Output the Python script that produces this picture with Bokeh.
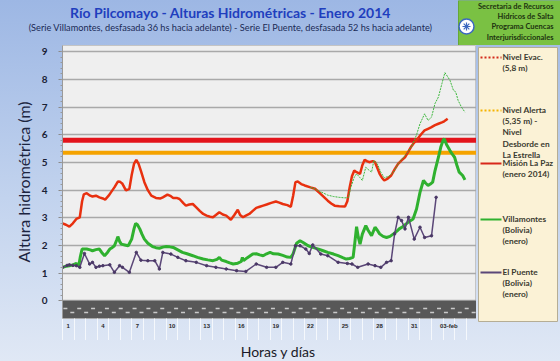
from bokeh.plotting import figure
from bokeh.layouts import column, row
from bokeh.models import Range1d, FixedTicker, Span, BoxAnnotation
from bokeh.core.properties import value
from bokeh.embed import file_html
from bokeh.resources import INLINE
import numpy as np

# ---------------- data ----------------
tick_days = [1, 4, 7, 10, 13, 16, 19, 22, 25, 28, 31, 34]
tick_labels = ["1", "4", "7", "10", "13", "16", "19", "22", "25", "28", "31", "03-feb"]

nivel_evac = 5.8
nivel_alerta = 5.35

lapaz_x = [0.5, 0.8, 1.1, 1.4, 1.7, 2.0, 2.2, 2.35, 2.6, 2.9, 3.1, 3.4, 3.7, 4.0, 4.2, 4.5, 4.7, 5.0,
           5.3, 5.5, 5.7, 6.0, 6.3, 6.5, 6.7, 6.9, 7.1, 7.3, 7.6, 7.9, 8.2, 8.6, 9.0, 9.2, 9.6, 9.9,
           10.1, 10.4, 10.65, 11.0, 11.2, 11.5, 11.8, 12.1, 12.4, 12.7, 13.0, 13.3, 13.55, 13.8,
           14.1, 14.4, 14.7, 15.1, 15.4, 15.7, 15.9, 16.15, 16.4, 16.7, 17.0, 17.3, 17.6, 17.9,
           18.2, 18.6, 19.0, 19.3, 19.6, 20.0, 20.3, 20.5, 20.7, 20.9, 21.2, 21.5, 22.0, 22.4,
           22.9, 23.2, 23.5, 23.8, 24.1, 24.5, 25.0, 25.2, 25.4, 25.6, 25.8, 26.0, 26.3, 26.5,
           26.7, 26.9, 27.1, 27.4, 27.6, 27.8, 28.0, 28.2, 28.4, 28.7, 29.0, 29.3, 29.6, 29.9,
           30.2, 30.5, 30.7, 31.0, 31.3, 31.6, 31.9, 32.2, 32.5, 32.8, 33.1, 33.4, 33.6, 33.9]
lapaz_y = [2.80, 2.75, 2.68, 2.80, 2.96, 3.02, 3.60, 3.85, 3.89, 3.80, 3.77, 3.80, 3.74, 3.70, 3.66,
           3.80, 3.92, 4.10, 4.31, 4.30, 4.23, 3.99, 4.05, 4.55, 4.95, 5.10, 4.95, 4.70, 4.29, 4.00,
           3.80, 3.72, 3.70, 3.74, 3.84, 3.78, 3.72, 3.72, 3.68, 3.52, 3.44, 3.48, 3.50, 3.38, 3.25,
           3.14, 3.08, 3.04, 3.02, 3.10, 3.20, 3.12, 3.08, 2.93, 3.10, 3.29, 3.10, 3.02, 3.08, 3.14,
           3.25, 3.36, 3.40, 3.44, 3.48, 3.54, 3.59, 3.55, 3.50, 3.46, 3.40, 3.80, 4.29, 4.31, 4.22,
           4.17, 4.10, 4.05, 3.86, 3.74, 3.62, 3.52, 3.44, 3.42, 3.41, 3.60, 4.10, 4.50, 4.71, 4.65,
           4.59, 4.90, 5.10, 5.05, 5.01, 5.05, 5.01, 4.80, 4.59, 4.45, 4.35, 4.42, 4.53, 4.75, 4.95,
           5.08, 5.19, 5.40, 5.55, 5.72, 5.86, 6.02, 6.16, 6.22, 6.28, 6.35, 6.40, 6.45, 6.49, 6.58]

thin_x = [22.0, 22.4, 22.6, 23.0, 23.5, 24.0, 24.5, 25.0, 25.3, 25.5, 25.8, 26.0, 26.3, 26.5,
          26.8, 27.0, 27.3, 27.5, 27.8, 28.1, 28.4, 28.8, 29.2, 29.6, 30.0, 30.4, 30.8, 31.2, 31.5,
          31.9, 32.2, 32.5, 32.8, 33.1, 33.4, 33.66, 33.9, 34.1, 34.4, 34.6, 34.8, 35.1, 35.4]
thin_y = [4.10, 4.05, 3.99, 3.92, 3.82, 3.77, 3.74, 3.72, 3.74, 4.10, 4.47, 4.59, 4.45, 4.35,
          4.83, 4.75, 4.65, 5.07, 4.95, 4.65, 4.45, 4.50, 4.65, 4.95, 5.15, 5.35, 5.60, 6.00, 6.40,
          6.76, 6.52, 6.64, 7.13, 7.37, 7.85, 8.25, 8.10, 7.97, 7.61, 7.55, 7.25, 7.00, 6.82]

villa_x = [0.5, 0.8, 1.1, 1.4, 1.7, 1.9, 2.05, 2.2, 2.6, 2.9, 3.1, 3.4, 3.7, 3.9, 4.15, 4.4, 4.6,
           4.8, 5.0, 5.2, 5.3, 5.45, 5.6, 5.9, 6.2, 6.5, 6.7, 6.84, 7.0, 7.2, 7.4, 7.6, 7.9, 8.3,
           8.6, 8.9, 9.2, 9.5, 9.8, 10.1, 10.5, 10.9, 11.3, 11.8, 12.2, 12.7, 13.1, 13.55, 13.9,
           14.1, 14.3, 14.7, 15.0, 15.3, 15.7, 16.0, 16.1, 16.2, 16.5, 17.0, 17.3, 17.6, 17.9,
           18.2, 18.5, 18.8, 19.2, 19.6, 20.0, 20.3, 20.5, 20.8, 21.1, 21.4, 21.8, 22.2, 22.7,
           23.1, 23.5, 24.0, 24.4, 24.8, 25.1, 25.4, 25.7, 25.85, 26.0, 26.15, 26.3, 26.5, 26.8,
           27.0, 27.3, 27.6, 27.8, 28.0, 28.3, 28.6, 28.9, 29.2, 29.5, 29.7, 30.0, 30.3, 30.6,
           30.9, 31.2, 31.5, 31.8, 32.0, 32.2, 32.4, 32.6, 32.8, 33.1, 33.3, 33.5, 33.6, 33.8,
           34.1, 34.3, 34.5, 34.7, 34.9, 35.2, 35.4]
villa_y = [1.21, 1.25, 1.27, 1.30, 1.35, 1.25, 1.60, 1.87, 1.87, 1.84, 1.81, 1.85, 1.87, 1.75, 1.63,
           1.75, 1.87, 1.92, 1.99, 2.20, 2.32, 2.15, 2.05, 2.02, 1.99, 2.23, 2.60, 2.80, 2.75, 2.60,
           2.40, 2.23, 2.08, 1.96, 1.92, 1.90, 1.94, 1.96, 1.95, 1.93, 1.84, 1.75, 1.70, 1.63, 1.57,
           1.51, 1.48, 1.45, 1.50, 1.57, 1.47, 1.42, 1.37, 1.33, 1.36, 1.42, 1.57, 1.45, 1.55, 1.69,
           1.70, 1.66, 1.63, 1.70, 1.75, 1.70, 1.69, 1.64, 1.58, 1.57, 1.70, 2.08, 2.17, 2.10, 1.99,
           1.93, 1.87, 1.81, 1.75, 1.69, 1.63, 1.56, 1.51, 1.53, 1.57, 2.10, 2.68, 2.30, 2.05, 2.41,
           2.72, 2.55, 2.35, 2.66, 2.55, 2.42, 2.33, 2.29, 2.33, 2.42, 2.52, 2.60, 2.68, 2.78, 2.88,
           2.96, 3.32, 3.92, 4.35, 4.25, 4.17, 4.22, 4.29, 4.70, 5.19, 5.55, 5.80, 5.86, 5.65, 5.43,
           5.30, 5.19, 4.90, 4.65, 4.53, 4.37]

puente_x = [0.5, 0.9, 1.1, 1.4, 1.7, 2.0, 2.4, 2.85, 3.1, 3.4, 3.7, 4.0, 4.6, 5.0, 5.45, 5.7, 6.3,
            6.9, 7.3, 7.9, 8.5, 8.9, 9.2, 9.9, 10.5, 11.2, 12.1, 13.0, 13.8, 14.7, 15.6, 16.4, 17.3,
            18.2, 19.0, 19.6, 20.3, 20.7, 21.1, 21.6, 21.9, 22.2, 22.9, 23.5, 24.4, 25.2, 25.6,
            26.1, 27.0, 27.6, 28.1, 28.6, 29.0, 29.3, 29.6, 29.9, 30.2, 30.5, 31.0, 31.5, 31.9,
            32.5, 32.9]
puente_y = [1.21, 1.28, 1.30, 1.28, 1.27, 1.21, 1.71, 1.33, 1.39, 1.21, 1.25, 1.27, 1.30, 1.03, 1.27,
            1.21, 1.03, 1.75, 1.47, 1.45, 1.45, 1.15, 1.75, 1.69, 1.57, 1.45, 1.39, 1.27, 1.21, 1.15,
            1.09, 1.06, 1.33, 1.21, 1.21, 1.39, 1.33, 1.99, 1.99, 1.87, 1.71, 2.02, 1.69, 1.63, 1.39,
            1.35, 1.33, 1.21, 1.33, 1.27, 1.21, 1.39, 1.45, 2.42, 3.02, 2.90, 2.60, 3.02, 2.23, 2.66,
            2.29, 2.35, 3.74]

title_text = "Río Pilcomayo - Alturas Hidrométricas - Enero 2014"
subtitle_text = ("(Serie Villamontes, desfasada 36 hs hacia adelante) - "
                 "Serie El Puente, desfasada 52 hs hacia adelante)")
institution_text = "Secretaria de Recursos\nHídricos de Salta\nPrograma Cuencas\nInterjurisdiccionales"
legend_labels = ["Nivel Evac.\n(5,8 m)",
                 "Nivel Alerta\n(5,35 m) -\nNivel\nDesborde en\nLa Estrella",
                 "Misión La Paz\n(enero 2014)",
                 "Villamontes\n(Bolivia)\n(enero)",
                 "El Puente\n(Bolivia)\n(enero)"]
legend_colors = ["#d42a1a", "#f5b400", "#d8281a", "#2fb12f", "#5b4778"]
legend_dashes = ["2 2", "2 2", "solid", "solid", "solid"]

FONT = "Lato"


def blank(width, height, xr, yr):
    f = figure(width=width, height=height, output_backend="svg", toolbar_location=None,
               x_range=Range1d(*xr), y_range=Range1d(*yr), x_axis_type=None, y_axis_type=None,
               min_border=0, background_fill_color=None, border_fill_color=None,
               outline_line_color=None)
    f.grid.visible = False
    return f


# ---------------- header ----------------
head = blank(560, 45, (0, 560), (45, 0))
head.text(x=[230], y=[12], text=[title_text], text_align="center", text_baseline="middle",
          text_font=value(FONT), text_font_size="14px", text_font_style="bold", text_color="#1f3fbe")
head.text(x=[230], y=[27], text=[subtitle_text], text_align="center", text_baseline="middle",
          text_font=value(FONT), text_font_size="9.2px", text_color="#1a2a55")
head.quad(left=[458], right=[560], top=[0], bottom=[45], fill_color="#7ac143", line_color="#66a836")
head.scatter(x=[466], y=[26], size=15, fill_color="#ffffff", line_color="#3c68c0", line_width=1.5)
head.scatter(x=[466], y=[26], marker="asterisk", size=8, line_color="#3c68c0", line_width=1.2)
head.text(x=[553], y=[1], text=[institution_text], text_align="right", text_baseline="top",
          text_font=value(FONT), text_font_size="7.5px", text_font_style="bold",
          text_color="#1d3310", text_line_height=1.15)

# ---------------- main plot ----------------
p = figure(width=476, height=295, output_backend="svg", toolbar_location=None,
           x_range=Range1d(0.5, 36.4), y_range=Range1d(-0.64, 9.23),
           min_border_left=62, min_border_right=0, min_border_top=0, min_border_bottom=22,
           background_fill_color="#efefef", border_fill_color=None,
           outline_line_color="#c4c4c4")

p.xaxis.ticker = FixedTicker(ticks=tick_days, minor_ticks=list(np.arange(0.5, 36.5, 1.0)))
p.xaxis.major_label_overrides = {d: t for d, t in zip(tick_days, tick_labels)}
p.xaxis.major_label_text_font_size = "6px"
p.xaxis.major_label_text_font_style = "bold"
p.xaxis.major_label_text_color = "#2a2a2a"
p.xaxis.major_label_standoff = -18
p.xaxis.major_tick_out = 0
p.xaxis.major_tick_in = 0
p.xaxis.minor_tick_out = 22
p.xaxis.minor_tick_in = 0
p.xaxis.minor_tick_line_color = "#f5f8fc"
p.xaxis.minor_tick_line_width = 1
p.xaxis.axis_line_color = None

p.yaxis.ticker = FixedTicker(ticks=list(range(0, 10)), minor_ticks=list(np.arange(0, 9.2, 0.2)))
p.yaxis.major_label_text_font = FONT
p.yaxis.major_label_text_font_size = "10px"
p.yaxis.major_label_text_font_style = "bold"
p.yaxis.major_label_text_color = "#1b2236"
p.yaxis.major_label_standoff = 11
p.yaxis.axis_label = "Altura hidrométrica (m)"
p.yaxis.axis_label_text_font = FONT
p.yaxis.axis_label_text_font_size = "16px"
p.yaxis.axis_label_text_font_style = "normal"
p.yaxis.axis_label_text_color = "#1b2440"
p.yaxis.axis_label_standoff = 6
p.yaxis.axis_line_color = "#9a9a9a"
p.yaxis.major_tick_line_color = "#8a8a8a"
p.yaxis.minor_tick_line_color = "#9a9a9a"
p.yaxis.major_tick_out = 4
p.yaxis.major_tick_in = 0
p.yaxis.minor_tick_out = 2
p.yaxis.minor_tick_in = 0

p.xgrid.grid_line_color = None
p.ygrid.grid_line_color = "#a9a9a9"
p.ygrid.grid_line_width = 1.5

# bottom dark band with hour markers
p.add_layout(BoxAnnotation(top=0, fill_color="#585858", fill_alpha=1, line_color=None, level="underlay"))
band_x = np.arange(0.75, 36.3, 0.6)
band_y = np.where(np.arange(len(band_x)) % 2 == 0, -0.28, -0.42)
p.scatter(band_x, band_y, marker="dash", size=4, line_color="#c9c9c9", line_width=1.5)

# threshold lines
p.add_layout(Span(location=nivel_evac, dimension="width", line_color="#e3141b", line_width=5, level="underlay"))
p.add_layout(Span(location=nivel_alerta, dimension="width", line_color="#f5a300", line_width=4, level="underlay"))

# series
p.line(lapaz_x, lapaz_y, line_color="#e8300f", line_width=2.5)
p.line(thin_x, thin_y, line_color="#3cb83c", line_width=1, line_dash="2 1")
p.line(villa_x, villa_y, line_color="#2fb12f", line_width=3)
p.line(puente_x, puente_y, line_color="#5b4778", line_width=1.5)
p.scatter(puente_x, puente_y, size=2.5, color="#4a3866")

# ---------------- footer (x title) ----------------
foot = blank(476, 21, (0, 476), (361, 340))
foot.text(x=[248], y=[351], text=["Horas y días"], text_align="center", text_baseline="middle",
          text_font=value(FONT), text_font_size="14px", text_color="#1a1a28")

# ---------------- legend panel ----------------
leg = blank(84, 316, (476, 560), (361, 45))
leg.quad(left=[478], right=[557], top=[47], bottom=[321], fill_color="#fbf2d6", line_color="#b5ad95")
legend_y = [57, 110, 163, 219, 272]
for ly, txt, col, dash in zip(legend_y, legend_labels, legend_colors, legend_dashes):
    leg.segment(x0=[480], y0=[ly], x1=[501], y1=[ly], line_color=col, line_width=2, line_dash=dash)
    leg.text(x=[502], y=[ly - 5.5], text=[txt], text_align="left", text_baseline="top",
             text_font=value(FONT), text_font_size="8.3px", text_font_style="bold",
             text_color="#3a3a30", text_line_height=1.12)

layout = column(head, row(column(p, foot), leg),
                styles={"background": "linear-gradient(180deg, #9db7e4 0%, #c2d3ee 55%, #e0e8f5 100%)"})

open("out.html", "w").write(file_html(layout, INLINE))
